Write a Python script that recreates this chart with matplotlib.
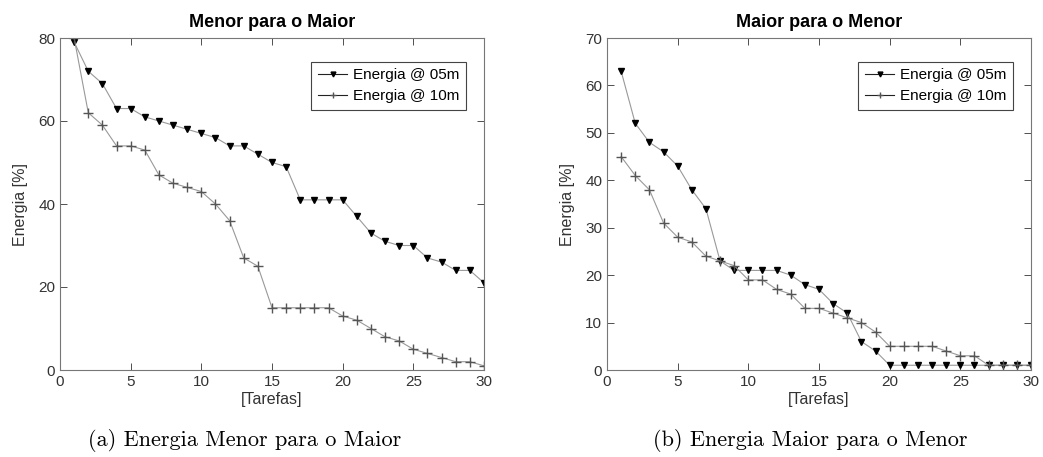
import matplotlib
matplotlib.use("Agg")
import matplotlib.pyplot as plt

plt.rcParams['font.family'] = ['Liberation Sans', 'DejaVu Sans']

tarefas = list(range(1, 31))

# (a) Menor para o Maior
menor_05m = [79, 72, 69, 63, 63, 61, 60, 59, 58, 57, 56, 54, 54, 52, 50,
             49, 41, 41, 41, 41, 37, 33, 31, 30, 30, 27, 26, 24, 24, 21]
menor_10m = [80, 62, 59, 54, 54, 53, 47, 45, 44, 43, 40, 36, 27, 25, 15,
             15, 15, 15, 15, 13, 12, 10, 8, 7, 5, 4, 3, 2, 2, 1]

# (b) Maior para o Menor
maior_05m = [63, 52, 48, 46, 43, 38, 34, 23, 21, 21, 21, 21, 20, 18, 17,
             14, 12, 6, 4, 1, 1, 1, 1, 1, 1, 1, 1, 1, 1, 1]
maior_10m = [45, 41, 38, 31, 28, 27, 24, 23, 22, 19, 19, 17, 16, 13, 13,
             12, 11, 10, 8, 5, 5, 5, 5, 4, 3, 3, 1, 1, 1, 1]

titulos = ["Menor para o Maior", "Maior para o Menor"]
legendas = ["Energia @ 05m", "Energia @ 10m"]
legendas_fig = ["(a) Energia Menor para o Maior", "(b) Energia Maior para o Menor"]
yticks = [[0, 20, 40, 60, 80], [0, 10, 20, 30, 40, 50, 60, 70]]
ylims = [80, 70]

W, H = 1043, 457
fig = plt.figure(figsize=(W / 100, H / 100), dpi=100)

dados = [(menor_05m, menor_10m), (maior_05m, maior_10m)]
lefts = [60, 607]
centros_legenda = [245, 810]
for i, (s05, s10) in enumerate(dados):
    ax = fig.add_axes([lefts[i] / W, (H - 370) / H, 424 / W, 332 / H])
    ax.plot(tarefas, s05, color='#999999', lw=0.8, marker='v', ms=5,
            mfc='black', mec='black', label=legendas[0])
    ax.plot(tarefas, s10, color='#999999', lw=0.8, marker='+', ms=6.5,
            mew=1.0, mec='#555555', label=legendas[1])
    ax.set_xlim(0, 30)
    ax.set_ylim(0, ylims[i])
    ax.set_xticks([0, 5, 10, 15, 20, 25, 30])
    ax.set_yticks(yticks[i])
    ax.tick_params(direction='in', top=True, right=True, labelsize=11,
                   colors='#333333', length=5, width=0.6)
    for sp in ax.spines.values():
        sp.set_color('#777777')
        sp.set_linewidth(0.8)
    ax.set_title(titulos[i], fontsize=13, fontweight='bold', pad=8)
    ax.set_xlabel("[Tarefas]", fontsize=11.5, color='#333333', labelpad=2)
    ax.set_ylabel("Energia [%]", fontsize=11.5, color='#333333', labelpad=7)
    leg = ax.legend(loc='upper right', fontsize=11, fancybox=False,
                    framealpha=1, edgecolor='#444444', borderpad=0.45,
                    handlelength=1.9, handletextpad=0.35, labelspacing=0.45,
                    markerscale=0.7, bbox_to_anchor=(0.975, 0.952))
    leg.get_frame().set_linewidth(0.8)
    for h in leg.get_lines():
        h.set_color('#222222')
    fig.text(centros_legenda[i] / W, 1 - 440 / H, legendas_fig[i],
             ha='center', va='center', fontsize=16, family='cmr10')

fig.savefig("out.png", dpi=100)
